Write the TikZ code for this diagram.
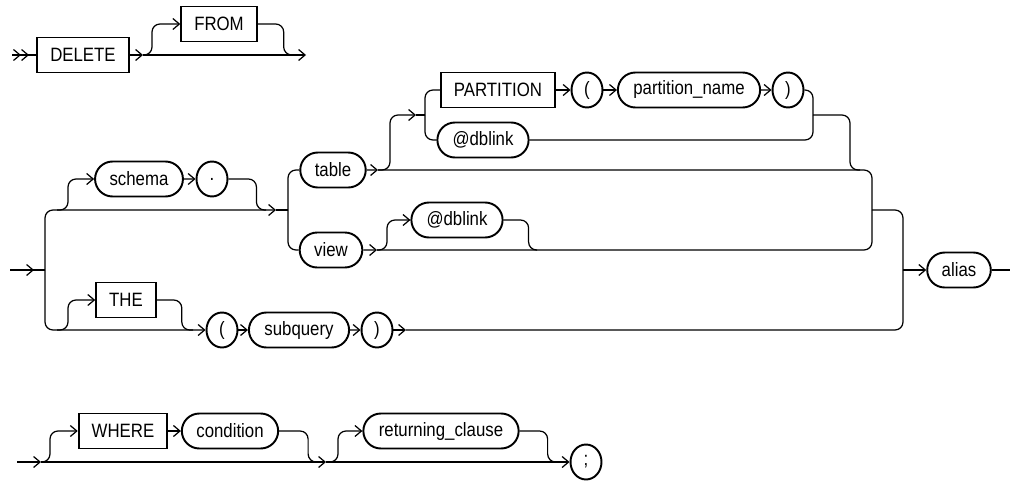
\documentclass[tikz,border=0pt]{standalone}
\usepackage{fontspec}
\setmainfont{Liberation Sans}[FakeStretch=0.87]
\usetikzlibrary{arrows.meta,positioning,shapes.misc,shapes.geometric}

\begin{document}
\begin{tikzpicture}[
  x=0.02cm, y=-0.02cm,
  font=\fontsize{11}{13}\selectfont,
  kw/.style={draw, line width=1.1pt, minimum height=0.7cm, inner xsep=0.26cm},
  nt/.style={draw, line width=1.1pt, rounded rectangle, minimum height=0.7cm, inner xsep=0.26cm},
  pc/.style={draw, line width=1.1pt, ellipse, minimum width=0.62cm, minimum height=0.7cm, inner sep=0pt},
  rl/.style={line width=0.7pt, rounded corners=0.16cm},
  ar/.style={rl, -{Straight Barb[length=1.3mm,width=2.2mm]}},
  dbl/.style={line width=0.7pt, -{Straight Barb[length=1.3mm,width=2.2mm] Straight Barb[length=1.3mm,width=2.2mm]}},
]
  \useasboundingbox (0,0) rectangle (1010,480);

  % nodes
  \node[kw] (delete) at (83,55) {DELETE};
  \node[kw] (from) at (219,24) {FROM};
  \node[nt] (schema) at (139,179) {schema};
  \node[pc] (dot) at (212,179) {.};
  \node[nt] (table) at (333,170) {table};
  \node[nt] (view) at (331,250) {view};
  \node[kw] (part) at (498,90) {PARTITION};
  \node[pc] (lpa) at (587,90) {(};
  \node[nt] (pname) at (689,90) {partition\_name};
  \node[pc] (rpa) at (788,90) {)};
  \node[nt] (dbla) at (483,140) {@dblink};
  \node[nt] (dblb) at (457,220) {@dblink};
  \node[nt] (alias) at (959,270) {alias};
  \node[kw] (the) at (126,300) {THE};
  \node[pc] (lpb) at (222,330) {(};
  \node[nt] (subq) at (299,330) {subquery};
  \node[pc] (rpb) at (377,330) {)};
  \node[kw] (where) at (123,431) {WHERE};
  \node[nt] (cond) at (230,431) {condition};
  \node[nt] (ret) at (441,431) {returning\_clause};
  \node[pc] (semi) at (586,462) {;};

  % junctions
  \coordinate (s1) at (12,55);
  \coordinate (j1) at (143,55);
  \coordinate (e1) at (306,55);
  \coordinate (e2) at (10,270);
  \coordinate (v1) at (45,270);
  \coordinate (c1) at (288,210);
  \coordinate (c2) at (872,210);
  \coordinate (c3) at (425,115);
  \coordinate (c4) at (813,115);
  \coordinate (a1) at (903,270);
  \coordinate (e4) at (1010,270);
  \coordinate (e3) at (17,462);

  % DELETE [FROM]
  \draw[rl] (s1) -- (delete.west);
  \draw[dbl] (s1) -- ++(17,0);
  \draw[ar] (delete) -- (j1);
  \draw[ar] (j1) -- (e1);
  \draw[ar] (j1) -- ++(9,0) |- (from.west);
  \draw[rl] (from.east) -- ++(26,0) |- (296,55);

  % [schema .] table/view | [THE] ( subquery )
  \draw[ar] (e2) -- (34,270);
  \draw[rl] (e2) -- (v1);
  \draw[ar] (v1) |- (276,210);
  \draw[rl] (276,210) -- (c1);
  \draw[ar] (v1) |- (lpb.west);
  \draw[ar] (57,210) -- ++(11,0) |- (schema.west);
  \draw[ar] (schema) -- (dot);
  \draw[rl] (dot.east) -- ++(28,0) |- (266,210);
  \draw[rl] (c1) |- (table.west);
  \draw[rl] (c1) |- (view.west);

  % table [PARTITION ( partition_name ) | @dblink]
  \draw[ar] (table) -- (378,170);
  \draw[rl] (378,170) -| (c2);
  \draw[ar] (378,170) -- ++(12,0) |- (416,115);
  \draw[rl] (416,115) -- (c3);
  \draw[rl] (c3) |- (part.west);
  \draw[rl] (c3) |- (dbla.west);
  \draw[ar] (part) -- (lpa);
  \draw[ar] (lpa) -- (pname);
  \draw[ar] (pname) -- (rpa);
  \draw[rl] (rpa.east) -| (c4);
  \draw[rl] (dbla.east) -| (c4);
  \draw[rl] (c4) -- ++(37,0) |- (860,170);

  % view [@dblink]
  \draw[ar] (view) -- (377,250);
  \draw[rl] (377,250) -| (c2);
  \draw[ar] (377,250) -- ++(10,0) |- (dblb.west);
  \draw[rl] (dblb.east) -- ++(25,0) |- (537,250);

  % THE
  \draw[ar] (57,330) -- ++(11,0) |- (the.west);
  \draw[rl] (the.east) -- ++(25,0) |- (193,330);
  \draw[ar] (lpb) -- (subq);
  \draw[ar] (subq) -- (rpb);
  \draw[ar] (rpb) -- (406,330);
  \draw[rl] (406,330) -| (a1);

  % alias
  \draw[rl] (c2) -| (a1);
  \draw[ar] (a1) -- (alias.west);
  \draw[rl] (alias.east) -- (e4);

  % [WHERE condition] [returning_clause] ;
  \draw[ar] (e3) -- (41,462);
  \draw[ar] (41,462) -- (326,462);
  \draw[ar] (326,462) -- (semi.west);
  \draw[ar] (41,462) -- ++(9,0) |- (where.west);
  \draw[ar] (where) -- (cond);
  \draw[rl] (cond.east) -- ++(29,0) |- (316,462);
  \draw[ar] (326,462) -- ++(12,0) |- (ret.west);
  \draw[rl] (ret.east) -- ++(28,0) |- (556,462);
\end{tikzpicture}
\end{document}
